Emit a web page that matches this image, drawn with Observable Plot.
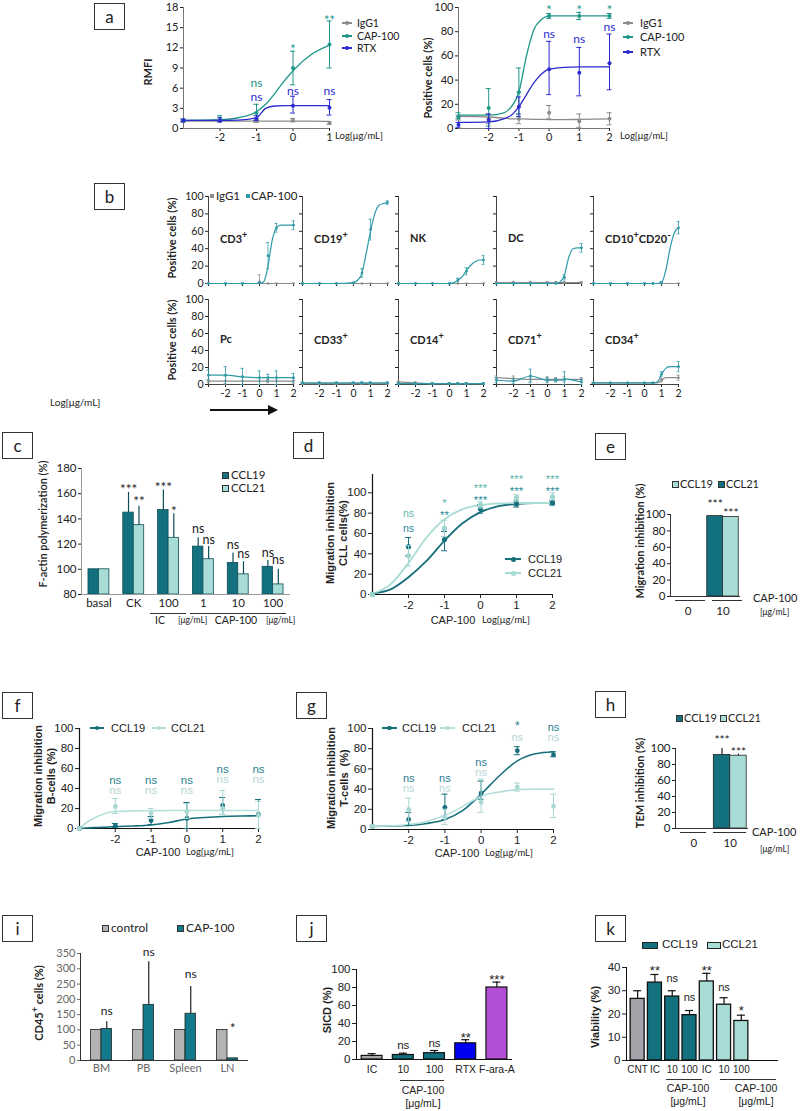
<!DOCTYPE html>
<html><head><meta charset="utf-8">
<script src="https://cdn.jsdelivr.net/npm/d3@7"></script>
<script src="https://cdn.jsdelivr.net/npm/@observablehq/plot@0.6"></script>
<style>
body{margin:0;background:#fff;}
#root{position:relative;width:800px;height:1111px;overflow:hidden;background:#fff;font-family:Lato,'Open Sans',sans-serif;color:#222;}
.box{position:absolute;width:31px;height:27px;border:1.3px solid #333;box-sizing:border-box;font-size:17px;display:flex;align-items:center;justify-content:center;font-family:Lato,sans-serif;}
.t{position:absolute;white-space:nowrap;line-height:1.15;text-align:center;}
.d{position:absolute;}
</style></head><body><div id="root"></div>
<script>
// ---------------- DATA ----------------
// panel a (left) RMFI
const aLX = [-3,-2,-1,0,1];
const aL_IgG1 = [1.1,1.1,1.1,1.2,0.8];
const aL_IgG1Lo = [1.0,1.0,0.9,1.0,0.6];
const aL_IgG1Hi = [1.2,1.3,1.3,1.5,1.0];
const aL_CAP = [1.2,1.3,2.3,9.0,12.5];
const aL_CAPLo = [1.0,1.0,1.2,6.5,9.0];
const aL_CAPHi = [1.4,1.9,3.6,11.5,16.0];
const aL_RTX = [1.2,1.2,1.5,3.4,3.1];
const aL_RTXLo = [1.0,1.0,1.2,2.3,2.0];
const aL_RTXHi = [1.4,1.6,1.9,4.8,4.3];
const aL_curveX = [-3,-2,-1.5,-1,-0.75,-0.5,-0.25,0,0.5,1];
const aL_IgG1Curve = [1.1,1.1,1.1,1.1,1.1,1.1,1.1,1.1,1.1,1.05];
const aL_CAPCurve = [1.2,1.3,1.6,2.5,3.6,5.2,7.0,8.6,11.0,12.4];
const aL_RTXCurve = [1.2,1.2,1.25,1.6,3.0,3.35,3.4,3.4,3.4,3.4];
const aL_annX = [-1,-1,0,0,1,1];
const aL_annY = [6.7,4.6,12.3,5.6,16.6,5.6];
const aL_annText = ["ns","ns","*","ns","**","ns"];
const aL_annSeries = ["CAP-100","RTX","CAP-100","RTX","CAP-100","RTX"];
const aL_yTicks = [0,3,6,9,12,15,18];
const aL_xTicks = [-2,-1,0,1];
// panel a (right) positive cells
const aRX = [-3,-2,-1,0,1,2];
const aR_CAP = [10,17,30,93,93,93];
const aR_CAPLo = [8,2,12,91,90,91];
const aR_CAPHi = [13,33,50,95,96,95];
const aR_RTX = [3,7,18,49,46,54];
const aR_RTXLo = [1,0,10,28,27,32];
const aR_RTXHi = [5,12,26,72,67,78];
const aR_IgG1 = [9,8,8,13,6,8];
const aR_IgG1Lo = [7,4,4,8,1,3];
const aR_IgG1Hi = [11,12,12,19,12,13];
const aR_curveX = [-3,-2,-1.5,-1.25,-1,-0.75,-0.5,-0.25,0,0.5,1,2];
const aR_CAPCurve = [11,11,13,18,30,60,82,90,93,93,93,93];
const aR_RTXCurve = [5,5.5,8,11,18,28,38,45,49,50.5,51,51];
const aR_IgG1Curve = [10,9.5,8.5,8,8,7.8,7.6,7.5,7.4,7.4,7.5,8];
const aR_annX = [0,1,2,0,1,2];
const aR_annY = [100.5,100.5,100.5,78,73.5,83.7];
const aR_annText = ["*","*","*","ns","ns","ns"];
const aR_annSeries = ["CAP-100","CAP-100","CAP-100","RTX","RTX","RTX"];
const aR_yTicks = [0,20,40,60,80,100];
const aR_xTicks = [-2,-1,0,1,2];
// panel b (10 populations)
const bNames = ["CD3<sup>+</sup>","CD19<sup>+</sup>","NK","DC","CD10<sup>+</sup>CD20<sup>-</sup>","Pc","CD33<sup>+</sup>","CD14<sup>+</sup>","CD71<sup>+</sup>","CD34<sup>+</sup>"];
const bGridX = [-3,-2,-1,0,0.25,0.5,0.75,1,1.25,1.5,1.75,2];
const bPtX = [-3,-2,-1,0,0.5,1,2];
const bCD3_cap = [0,0,0,0,2,20,50,64,67,67,67,67];
const bCD3_ig = [0,0,0,0,0,0,0,0,0,0,0,0];
const bCD3_capPts = [0,0,0,1,32,64,67];
const bCD3_capErr = [0,0,0,0,15,5,5];
const bCD3_igPts = [0,0,0,2,0,0,0];
const bCD3_igErr = [0,0,0,8,0,0,0];
const bCD19_cap = [0,0,0,1,4,12,35,60,80,90,92,93];
const bCD19_ig = [0,0,0,0,0,0,0,0,0,0,0,0];
const bCD19_capPts = [0,0,0,1,12,62,93];
const bCD19_capErr = [0,0,0,0,5,12,2];
const bCD19_igPts = [0,0,0,0,0,0,0];
const bCD19_igErr = [0,0,0,0,0,0,0];
const bNK_cap = [0,0,0,0,1,4,8,15,21,25,27,27];
const bNK_ig = [0,0,0,0,0,0,0,0,0,0,0,0];
const bNK_capPts = [0,0,0,0,4,14,27];
const bNK_capErr = [0,0,0,0,2,4,5];
const bNK_igPts = [0,0,0,0,0,0,0];
const bNK_igErr = [0,0,0,0,0,0,0];
const bDC_cap = [0,0,0,0,0,0,2,10,30,40,41,41];
const bDC_ig = [1,1,1,1,1,1,1,1,1,1,1,1];
const bDC_capPts = [0,0,0,0,0,7,41];
const bDC_capErr = [0,0,0,0,0,3,5];
const bDC_igPts = [1,1,1,1,1,1,1];
const bDC_igErr = [1,1,1,1,1,1,1];
const bCD10_cap = [0,0,0,0,0,0,0,1,15,40,58,64];
const bCD10_ig = [0,0,0,0,0,0,0,0,0,0,0,0];
const bCD10_capPts = [0,0,0,0,0,1,64];
const bCD10_capErr = [0,0,0,0,0,1,7];
const bCD10_igPts = [0,0,0,0,0,0,0];
const bCD10_igErr = [0,0,0,0,0,0,0];
const bPc_cap = [11,11,9,8,8,8,8,8,8,8,8,8];
const bPc_ig = [4,4,4,4,4,4,4,4,4,4,4,4];
const bPc_capPts = [11,11,9,8,8,8,8];
const bPc_capErr = [6,10,10,8,4,8,5];
const bPc_igPts = [4,4,4,4,4,4,4];
const bPc_igErr = [2,6,6,4,2,4,3];
const bCD33_cap = [2,2,2,2,2,2,2,2,2,2,2,2];
const bCD33_ig = [1,1,1,1,1,1,1,1,1,1,1,1];
const bCD33_capPts = [2,2,2,2,2,2,2];
const bCD33_capErr = [1,1,1,1,1,1,1];
const bCD33_igPts = [1,1,1,1,1,1,1];
const bCD33_igErr = [1,1,1,1,1,1,1];
const bCD14_cap = [1,1,1,1,1,1,1,1,1,1,1,1];
const bCD14_ig = [3,2,1,1,1,1,1,1,1,1,1,1];
const bCD14_capPts = [1,1,1,1,1,1,1];
const bCD14_capErr = [1,1,1,1,1,1,1];
const bCD14_igPts = [3,2,1,1,1,1,1];
const bCD14_igErr = [1,1,1,1,1,1,1];
const bCD71_cap = [5,4,10,5,5,5,5,6,6,5,4,3];
const bCD71_ig = [8,7,6,6,6,6,6,6,6,6,6,6];
const bCD71_capPts = [5,4,10,5,5,6,3];
const bCD71_capErr = [3,3,8,3,2,9,3];
const bCD71_igPts = [8,7,6,6,6,6,6];
const bCD71_igErr = [2,3,3,3,2,3,2];
const bCD34_cap = [2,2,2,2,2,2,3,12,19,21,21,21];
const bCD34_ig = [2,2,2,2,2,2,2,5,8,8,8,8];
const bCD34_capPts = [2,2,2,2,2,12,21];
const bCD34_capErr = [0,0,0,0,0,3,6];
const bCD34_igPts = [2,2,2,2,2,5,8];
const bCD34_igErr = [0,0,0,0,0,2,3];
const bYTicks = [0,20,40,60,80,100];
const bXTicks = [-3,-2,-1,0,1,2];
const bXLabels = [-2,-1,0,1,2];
// panel c F-actin
const cKeys = ["basal","CK","IC100","CAP1","CAP10","CAP100"];
const cLabels = ["basal","CK","100","1","10","100"];
const cCCL19 = [100,145,147,118,105,102];
const cCCL19Hi = [100,161,163,125,113,107];
const cCCL21 = [100,135,125,108,96,88];
const cCCL21Hi = [100,150,144,118,106,100];
const cSig19 = ["","***","***","ns","ns","ns"];
const cSig19Y = [0,166.5,168,132,119.6,112.8];
const cSig21 = ["","**","*","ns","ns","ns"];
const cSig21Y = [0,156.7,149,123.5,112,107];
const cYTicks = [80,100,120,140,160,180];
const cBase = 80;
// panel d CLL migration
const dX = [-3,-2,-1,0,1,2];
const d19 = [0,47,54,84,89,90];
const d19Lo = [0,38,43,80,86,88];
const d19Hi = [0,56,62,88,92,92];
const d21 = [0,38,65,88,95,96];
const d21Lo = [0,28,57,85,92,93];
const d21Hi = [0,48,73,91,98,100];
const dCurveX = [-3,-2.5,-2,-1.5,-1,-0.5,0,0.5,1,1.5,2];
const d19Curve = [1,5,17,33,53,70,81,87,89,90,90];
const d21Curve = [1,10,31,56,74,84,88,89.5,90,90,90];
const dAnnX = [-2,-1,0,1,2];
const dAnnTop = ["ns","*","***","***","***"];
const dAnnTopY = [80,93,107.5,116.5,116.5];
const dAnnBot = ["ns","**","***","***","***"];
const dAnnBotY = [65,81,95.5,104.5,104.5];
const dYTicks = [0,20,40,60,80,100];
const dXTicks = [-2,-1,0,1,2];
// panel e
const eKeys = ["0","10"];
const eCCL19 = [0,98];
const eCCL21 = [0,97];
const eSig19 = ["","***"];
const eSig19Y = [0,117];
const eSig21 = ["","***"];
const eSig21Y = [0,107];
const eYTicks = [0,20,40,60,80,100];
// panel f B-cells
const fX = [-3,-2,-1,0,1,2];
const f19 = [0,3,8,10,23,14];
const f19Lo = [0,1,4,0,14,0];
const f19Hi = [0,5,12,26,31,29];
const f21 = [0,22,15,17,20,13];
const f21Lo = [0,15,10,10,14,0];
const f21Hi = [0,30,20,25,38,27];
const fCurveX = [-3,-2.8,-2.5,-2.2,-2,-1.5,-1,-0.5,0,0.5,1,1.5,2];
const f19Curve = [0,0.5,1,1.5,2,2.5,3.5,6,9.5,11,12,12.5,12.7];
const f21Curve = [0,6,12,16,17,17.5,17.8,18,18,18,18,18,18];
const fAnnX = [-2,-1,0,1,2,-2,-1,0,1,2];
const fAnnY = [48,48,48,59,59,38,38,38,49,49];
const fAnnSeries = ["CCL19","CCL19","CCL19","CCL19","CCL19","CCL21","CCL21","CCL21","CCL21","CCL21"];
const fAnnText = ["ns","ns","ns","ns","ns","ns","ns","ns","ns","ns"];
// panel g T-cells
const gX = [-3,-2,-1,0,1,2];
const g19 = [3,10,22,36,78,74];
const g19Lo = [2,4,10,30,74,72];
const g19Hi = [4,17,35,48,82,77];
const g21 = [3,20,12,27,42,23];
const g21Lo = [2,8,5,17,38,12];
const g21Hi = [4,31,20,50,46,35];
const gCurveX = [-3,-2,-1.5,-1,-0.5,0,0.5,1,1.5,2];
const g19Curve = [3,4,6,10,19,35,53,68,75,77];
const g21Curve = [3,5,8,14,23,33,37,39.5,40,40];
const gAnnX = [-2,-1,0,1,2,-2,-1,0,1,2];
const gAnnY = [51,51,66,103,101,41,41,56,91,91];
const gAnnText = ["ns","ns","ns","*","ns","ns","ns","ns","ns","ns"];
const gAnnSeries = ["CCL19","CCL19","CCL19","CCL19","CCL19","CCL21","CCL21","CCL21","CCL21","CCL21"];
// panel h TEM
const hKeys = ["0","10"];
const hCCL19 = [0,92];
const hCCL19Hi = [0,100];
const hCCL21 = [0,91];
const hCCL21Hi = [0,93];
const hSig19 = ["","***"];
const hSig19Y = [0,115];
const hSig21 = ["","***"];
const hSig21Y = [0,101];
// panel i CD45+ cells in mice
const iKeys = ["BM","PB","Spleen","LN"];
const iControl = [100,100,100,100];
const iCAP = [103,182,153,7];
const iCAPHi = [127,323,242,7];
const iSig = ["ns","ns","ns","*"];
const iSigY = [163,356,281,118];
const iYTicks = [0,50,100,150,200,250,300,350];
// panel j SICD
const jKeys = ["IC","CAP10","CAP100","RTX","FaraA"];
const jLabels = ["IC","10","100","RTX","F-ara-A"];
const jVals = [4,5,7,18,80];
const jHi = [6.5,7,10,22,86];
const jSig = ["","ns","ns","**","***"];
const jSigY = [0,15.5,17.8,28,93];
const jYTicks = [0,20,40,60,80,100];
// panel k viability
const kKeys = ["CNT","IC19","C10_19","C100_19","IC21","C10_21","C100_21"];
const kLabels = ["CNT","IC","10","100","IC","10","100"];
const kGroup = ["CNT","CCL19","CCL19","CCL19","CCL21","CCL21","CCL21"];
const kVals = [26.5,33.5,27.5,19.5,34,24,17];
const kHi = [30,37,30,21.5,37.5,27,19.5];
const kSig = ["","**","ns","ns","**","ns","*"];
const kSigY = [0,40.5,35.3,27,40.5,31.5,23];
const kYTicks = [0,10,20,30,40];

// ---------------- STYLE ----------------
const C_TEAL_A = "#1e9688", C_BLUE_A = "#2b2bd0", C_GRAY_A = "#8a8a8a";
const C_DARK = "#13717f", C_LIGHT = "#a8dcd6";
const C_B_CAP = "#2f9aa8", C_B_IG = "#8d8d8d";
const FX = "Lato, 'Open Sans', sans-serif";
const FG = "'Liberation Sans', Arial, sans-serif";
const seriesColorA = {"IgG1": C_GRAY_A, "CAP-100": C_TEAL_A, "RTX": C_BLUE_A};
const seriesColorF = {"CCL19": "#2a7f8f", "CCL21": "#b5d6d6"};
const kColor = {"CNT": "#a3a3aa", "CCL19": C_DARK, "CCL21": C_LIGHT};
const jColor = ["#a6a6a6", C_DARK, C_DARK, "#0000f0", "#b24fd6"];

const ROOT = document.getElementById("root");
function place(el, left, top) {
  el.style.position = "absolute"; el.style.left = left + "px"; el.style.top = top + "px";
  el.style.overflow = "visible"; ROOT.append(el);
}
function T(html, x, y, o = {}) {
  const d = document.createElement("div");
  d.className = "t"; d.innerHTML = html;
  d.style.left = x + "px"; d.style.top = y + "px";
  d.style.fontSize = (o.size || 11) + "px";
  d.style.fontFamily = o.family || FX;
  if (o.weight) d.style.fontWeight = o.weight;
  d.style.color = o.color || "#222";
  const ax = o.anchor === "middle" ? "-50%" : o.anchor === "end" ? "-100%" : "0%";
  d.style.transform = o.rotate ? `translate(-50%,-50%) rotate(${o.rotate}deg)` : `translate(${ax},-50%)`;
  ROOT.append(d);
}
function BOX(s, x, y) { const d = document.createElement("div"); d.className = "box"; d.textContent = s; d.style.left = x + "px"; d.style.top = y + "px"; ROOT.append(d); }
function RECT(x, y, w, h, fill, border) {
  const d = document.createElement("div"); d.className = "d";
  d.style.left = x + "px"; d.style.top = (y - h / 2) + "px"; d.style.width = w + "px"; d.style.height = h + "px";
  d.style.background = fill; d.style.boxSizing = "border-box"; if (border) d.style.border = "1px solid " + border;
  ROOT.append(d);
}
function DOT(x, y, r, fill) { const d = document.createElement("div"); d.className = "d"; d.style.left = (x - r) + "px"; d.style.top = (y - r) + "px"; d.style.width = 2 * r + "px"; d.style.height = 2 * r + "px"; d.style.borderRadius = "50%"; d.style.background = fill; ROOT.append(d); }
function LINEMARK(x, y, len, color, r, w) { RECT(x, y, len, w || 1.5, color); if (r) DOT(x + len / 2, y, r, color); }

function plotAt(g, opts, marks) {
  const ml = g.ml ?? 40, mr = g.mr ?? 25, mt = g.mt ?? 25, mb = g.mb ?? 30;
  const svg = Plot.plot({
    width: (g.x1 - g.x0) + ml + mr, height: (g.y1 - g.y0) + mt + mb,
    marginLeft: ml, marginRight: mr, marginTop: mt, marginBottom: mb,
    color: {type: "identity"},
    style: {fontFamily: g.font || FX, fontSize: (g.fs || 11) + "px", color: g.textColor || "#222", background: "transparent", overflow: "visible"},
    ...opts, marks
  });
  place(svg, g.x0 - ml, g.y0 - mt);
}
const isStar = s => /^\*+$/.test(s);
function annMarks(data, o) {
  const base = {x: "x", y: "y", text: "text", fill: "color", fontSize: o.fs || 12, fontFamily: o.font || FX};
  return [
    Plot.text(data.filter(d => isStar(d.text)), {...base, fontSize: (o.fs || 12) + 1, dy: o.starDy ?? 4}),
    Plot.text(data.filter(d => !isStar(d.text)), {...base})
  ];
}
function errMarks(data, color, capW, sw) {
  return [
    Plot.ruleX(data, {x: "x", y1: "lo", y2: "hi", stroke: color, strokeWidth: sw || 1}),
    Plot.ruleY(data, {x1: "x", x2: "x", y: "hi", stroke: color, strokeWidth: sw || 1, insetLeft: -capW, insetRight: -capW}),
    Plot.ruleY(data, {x1: "x", x2: "x", y: "lo", stroke: color, strokeWidth: sw || 1, insetLeft: -capW, insetRight: -capW})
  ];
}
const zipXY = (xs, ys) => xs.map((x, i) => ({x, y: ys[i]}));
const zipPts = (xs, ys, lo, hi) => xs.map((x, i) => ({x, y: ys[i], lo: lo[i], hi: hi[i]}));

function linePanel(g) {
  const ax = g.axisColor || "#333", aw = g.axisW || 1;
  const marks = [
    Plot.axisY({ticks: g.yTicks, tickSize: g.yTickSize ?? 3, tickPadding: 2, tickFormat: g.yLabels === false ? () => "" : d => d, label: null, fontSize: g.fs || 11}),
    Plot.axisX({ticks: g.xTicks, tickSize: g.xTickSize ?? 3, tickPadding: g.xPad ?? 2, tickFormat: g.xLabels ? (d => g.xLabels.includes(d) ? String(d) : "") : () => "", label: null, fontSize: g.fs || 11}),
    Plot.ruleX([g.xDomain[0]], {stroke: ax, strokeWidth: aw}),
    Plot.ruleY([g.yDomain[0]], {stroke: ax, strokeWidth: aw}),
  ];
  for (const c of g.curves) marks.push(Plot.line(c.data, {x: "x", y: "y", stroke: c.color, strokeWidth: c.w || 1.3, curve: "monotone-x"}));
  for (const p of g.points) {
    marks.push(...errMarks(p.data, p.color, p.cap ?? 2.5, p.sw));
    marks.push(Plot.dot(p.data, {x: "x", y: "y", r: p.r || 2, fill: p.color}));
  }
  if (g.ann) marks.push(...annMarks(g.ann, {fs: g.annFs || 12, font: g.font, starDy: g.starDy}));
  plotAt(g, {x: {domain: g.xDomain}, y: {domain: g.yDomain}}, marks);
}

// ---------------- PANEL a ----------------
BOX("a", 94, 3);
linePanel({x0: 183, x1: 329, y0: 7, y1: 128, xDomain: [-3, 1], yDomain: [0, 18], yTicks: aL_yTicks, xTicks: aL_xTicks, xLabels: aL_xTicks, axisColor: "#777",
  curves: [
    {data: zipXY(aL_curveX, aL_IgG1Curve), color: C_GRAY_A},
    {data: zipXY(aL_curveX, aL_CAPCurve), color: C_TEAL_A},
    {data: zipXY(aL_curveX, aL_RTXCurve), color: C_BLUE_A}],
  points: [
    {data: zipPts(aLX, aL_IgG1, aL_IgG1Lo, aL_IgG1Hi), color: C_GRAY_A},
    {data: zipPts(aLX, aL_CAP, aL_CAPLo, aL_CAPHi), color: C_TEAL_A},
    {data: zipPts(aLX, aL_RTX, aL_RTXLo, aL_RTXHi), color: C_BLUE_A}],
  ann: aL_annX.map((x, i) => ({x, y: aL_annY[i], text: aL_annText[i], color: seriesColorA[aL_annSeries[i]]})), annFs: 12
});
T("RMFI", 148, 72, {rotate: -90, weight: 700, size: 11});
LINEMARK(342, 23, 10, C_GRAY_A, 1.8); T("IgG1", 357, 23, {size: 10.5});
LINEMARK(342, 36, 10, C_TEAL_A, 1.8); T("CAP-100", 357, 36, {size: 10.5});
LINEMARK(342, 48, 10, C_BLUE_A, 1.8); T("RTX", 357, 48, {size: 10.5});
T("Log[μg/mL]", 335, 136, {size: 9.5});

linePanel({x0: 458, x1: 609, y0: 7, y1: 128, xDomain: [-3, 2], yDomain: [0, 100], yTicks: aR_yTicks, xTicks: aR_xTicks, xLabels: aR_xTicks, axisColor: "#777",
  curves: [
    {data: zipXY(aR_curveX, aR_IgG1Curve), color: C_GRAY_A},
    {data: zipXY(aR_curveX, aR_CAPCurve), color: C_TEAL_A},
    {data: zipXY(aR_curveX, aR_RTXCurve), color: C_BLUE_A}],
  points: [
    {data: zipPts(aRX, aR_IgG1, aR_IgG1Lo, aR_IgG1Hi), color: C_GRAY_A},
    {data: zipPts(aRX, aR_CAP, aR_CAPLo, aR_CAPHi), color: C_TEAL_A},
    {data: zipPts(aRX, aR_RTX, aR_RTXLo, aR_RTXHi), color: C_BLUE_A}],
  ann: aR_annX.map((x, i) => ({x, y: aR_annY[i], text: aR_annText[i], color: seriesColorA[aR_annSeries[i]]})), annFs: 12
});
T("Positive cells (%)", 428, 78, {rotate: -90, weight: 700, size: 11});
LINEMARK(623, 23, 10, C_GRAY_A, 1.8); T("IgG1", 640, 23, {size: 11});
LINEMARK(623, 37, 10, C_TEAL_A, 1.8); T("CAP-100", 640, 37, {size: 11});
LINEMARK(623, 52, 10, C_BLUE_A, 1.8); T("RTX", 640, 52, {size: 11});
T("Log[μg/mL]", 620, 136, {size: 9.5});

// ---------------- PANEL b ----------------
BOX("b", 94, 183);
const bCols = [208, 302, 398, 496, 593];
const bRows = [[196, 283], [299, 384]];
const bSets = [
  [bCD3_cap, bCD3_ig, bCD3_capPts, bCD3_capErr, bCD3_igPts, bCD3_igErr],
  [bCD19_cap, bCD19_ig, bCD19_capPts, bCD19_capErr, bCD19_igPts, bCD19_igErr],
  [bNK_cap, bNK_ig, bNK_capPts, bNK_capErr, bNK_igPts, bNK_igErr],
  [bDC_cap, bDC_ig, bDC_capPts, bDC_capErr, bDC_igPts, bDC_igErr],
  [bCD10_cap, bCD10_ig, bCD10_capPts, bCD10_capErr, bCD10_igPts, bCD10_igErr],
  [bPc_cap, bPc_ig, bPc_capPts, bPc_capErr, bPc_igPts, bPc_igErr],
  [bCD33_cap, bCD33_ig, bCD33_capPts, bCD33_capErr, bCD33_igPts, bCD33_igErr],
  [bCD14_cap, bCD14_ig, bCD14_capPts, bCD14_capErr, bCD14_igPts, bCD14_igErr],
  [bCD71_cap, bCD71_ig, bCD71_capPts, bCD71_capErr, bCD71_igPts, bCD71_igErr],
  [bCD34_cap, bCD34_ig, bCD34_capPts, bCD34_capErr, bCD34_igPts, bCD34_igErr]];
bSets.forEach((s, i) => {
  const col = i % 5, row = Math.floor(i / 5);
  const x0 = bCols[col];
  const pts = (ys, es) => bPtX.map((x, j) => ({x, y: ys[j], lo: Math.max(0, ys[j] - es[j]), hi: ys[j] + es[j]}));
  linePanel({x0, x1: x0 + 85, y0: bRows[row][0], y1: bRows[row][1], xDomain: [-3, 2], yDomain: [0, 100],
    yTicks: bYTicks, yLabels: col === 0 ? undefined : false, xTicks: bXTicks, xLabels: row === 1 ? bXLabels : null,
    axisColor: "#444", fs: 10.5, ml: 40, mb: 25,
    curves: [{data: zipXY(bGridX, s[1]), color: C_B_IG, w: 1.2}, {data: zipXY(bGridX, s[0]), color: C_B_CAP, w: 1.2}],
    points: [{data: pts(s[4], s[5]), color: C_B_IG, r: 1.3, cap: 1.5, sw: 0.8}, {data: pts(s[2], s[3]), color: C_B_CAP, r: 1.4, cap: 1.5, sw: 0.8}]
  });
  T(bNames[i], x0 + 12, (row === 0 ? 238 : 339), {size: 11, weight: 700});
});
T("Positive cells (%)", 172, 238, {rotate: -90, weight: 700, size: 11});
T("Positive cells (%)", 172, 340, {rotate: -90, weight: 700, size: 11});
RECT(210, 196, 4, 4, C_B_IG); T("IgG1", 216, 196, {size: 11.5});
RECT(246, 196, 4, 4, C_B_CAP); T("CAP-100", 251, 196, {size: 11.5});
T("Log[μg/mL]", 50, 403, {size: 10});
RECT(210, 410, 60, 1.3, "#111");
{ const d = document.createElement("div"); d.className = "d"; d.style.left = "268px"; d.style.top = "405px"; d.style.width = "0"; d.style.height = "0";
  d.style.borderTop = "5px solid transparent"; d.style.borderBottom = "5px solid transparent"; d.style.borderLeft = "10px solid #111"; ROOT.append(d); }

// ---------------- bar helper ----------------
function bandInfo(range, n, pI, pO) { const step = range / (n - pI + 2 * pO); return {step, bw: step * (1 - pI)}; }
function pairedBars(g) {
  const {bw} = bandInfo(g.bx1 - g.x0, g.keys.length, g.pI, g.pO);
  const ml = g.ml ?? 40;
  const base = g.base ?? 0;
  const data = g.keys.map((k, i) => ({x: k, a: g.a[i], b: g.b[i], aHi: g.aHi ? g.aHi[i] : g.a[i], bHi: g.bHi ? g.bHi[i] : g.b[i],
    sa: g.sa ? g.sa[i] : "", sb: g.sb ? g.sb[i] : "", say: g.say ? g.say[i] : 0, sby: g.sby ? g.sby[i] : 0}));
  const q = bw / 4, cap = g.cap ?? 3;
  const ax = g.axisColor || "#333";
  const fs = g.fs || 11, sfs = g.sigFs || 12;
  const ec = g.errCol || "#222", sc = g.sigCol || "#222";
  const sA = data.filter(d => d.sa), sB = data.filter(d => d.sb);
  const marks = [
    Plot.axisY({ticks: g.yTicks, tickSize: g.yTickSize ?? 3, tickPadding: 2, label: null, fontSize: fs}),
    Plot.axisX({tickSize: 0, tickPadding: g.xPad ?? 4, label: null, fontSize: fs, tickFormat: d => g.labels ? g.labels[g.keys.indexOf(d)] : d}),
    Plot.barY(data.filter(d => d.a > base), {x: "x", y1: base, y2: "a", fill: g.colA, stroke: g.strokeCol || "#222", strokeWidth: g.sw || 0.8, insetRight: bw / 2}),
    Plot.barY(data.filter(d => d.b > base), {x: "x", y1: base, y2: "b", fill: g.colB, stroke: g.strokeCol || "#222", strokeWidth: g.sw || 0.8, insetLeft: bw / 2}),
    Plot.ruleX(data.filter(d => d.aHi > d.a), {x: "x", y1: "a", y2: "aHi", dx: -q, stroke: ec, strokeWidth: 1.2}),
    Plot.ruleX(data.filter(d => d.bHi > d.b), {x: "x", y1: "b", y2: "bHi", dx: q, stroke: ec, strokeWidth: 1.2}),
    Plot.tickY(data.filter(d => d.aHi > d.a), {x: "x", y: "aHi", insetLeft: q - cap, insetRight: 3 * q + cap, stroke: ec, strokeWidth: 1.2}),
    Plot.tickY(data.filter(d => d.bHi > d.b), {x: "x", y: "bHi", insetLeft: 3 * q - cap, insetRight: q + cap, stroke: ec, strokeWidth: 1.2}),
    Plot.ruleY([g.yDomain[0]], {stroke: ax, strokeWidth: g.aw || 1}),
    Plot.text(sA.filter(d => isStar(d.sa)), {x: "x", y: "say", text: "sa", dx: -q, dy: 4, fill: sc, fontSize: sfs + 1}),
    Plot.text(sA.filter(d => !isStar(d.sa)), {x: "x", y: "say", text: "sa", dx: -q, fill: sc, fontSize: sfs}),
    Plot.text(sB.filter(d => isStar(d.sb)), {x: "x", y: "sby", text: "sb", dx: q, dy: 4, fill: sc, fontSize: sfs + 1}),
    Plot.text(sB.filter(d => !isStar(d.sb)), {x: "x", y: "sby", text: "sb", dx: q, fill: sc, fontSize: sfs})
  ];
  plotAt({...g, ml}, {
    x: {domain: g.keys, range: [ml, ml + (g.bx1 - g.x0)], paddingInner: g.pI, paddingOuter: g.pO, round: false, align: 0.5},
    y: {domain: g.yDomain}
  }, marks);
}

// ---------------- PANEL c ----------------
BOX("c", 2, 432);
pairedBars({x0: 81, x1: 290, bx1: 290, y0: 468, y1: 594, keys: cKeys, labels: cLabels, pI: 0.4, pO: 0.2, base: cBase,
  a: cCCL19, b: cCCL21, aHi: cCCL19Hi, bHi: cCCL21Hi, sa: cSig19, sb: cSig21, say: cSig19Y, sby: cSig21Y,
  colA: C_DARK, colB: C_LIGHT, strokeCol: "#0d4c57", yDomain: [80, 180], yTicks: cYTicks, axisColor: "#999", fs: 11.5, sigFs: 12.5,
  errCol: "#0d4c57"});
RECT(81, 531, 1, 126, "#999");
T("F-actin polymerization (%)", 43, 524, {rotate: -90, size: 11, weight: 600});
RECT(222, 475, 7, 7, C_DARK, "#333"); T("CCL19", 231, 475, {size: 11.5});
RECT(222, 488, 7, 7, C_LIGHT, "#333"); T("CCL21", 231, 488, {size: 11.5});
RECT(150, 613, 36, 0.8, "#333"); RECT(190, 613, 96, 0.8, "#333");
T("IC", 160, 620, {size: 10.5, anchor: "middle"}); T("[μg/mL]", 178, 621, {size: 8.5});
T("CAP-100", 236, 620, {size: 10.5, anchor: "middle"}); T("[μg/mL]", 266, 621, {size: 8.5});

// ---------------- PANEL d ----------------
BOX("d", 293, 432);
{
  const ann = dAnnX.flatMap((x, i) => [
    {x, y: dAnnTopY[i], text: dAnnTop[i], color: "#5fb5b2"},
    {x, y: dAnnBotY[i], text: dAnnBot[i], color: "#1f8a97"}]);
  linePanel({x0: 372, x1: 552, y0: 474, y1: 594, xDomain: [-3, 2], yDomain: [0, 118], yTicks: dYTicks, xTicks: dXTicks, xLabels: dXTicks, axisColor: "#111", axisW: 1.2,
    font: FG, fs: 11.5, yTickSize: 4, xTickSize: 4, starDy: 3,
    curves: [{data: zipXY(dCurveX, d19Curve), color: "#176f7c", w: 1.8}, {data: zipXY(dCurveX, d21Curve), color: "#a9dcd6", w: 1.8}],
    points: [{data: zipPts(dX, d19, d19Lo, d19Hi), color: "#176f7c", r: 2.6, cap: 3}, {data: zipPts(dX, d21, d21Lo, d21Hi), color: "#9ed5cf", r: 2.6, cap: 3}],
    ann, annFs: 10.5
  });
}
T("Migration inhibition<br>CLL cells(%)", 337, 533, {rotate: -90, size: 11, weight: 700, family: FG});
LINEMARK(505, 559, 16, "#176f7c", 2.5, 2); T("CCL19", 528, 559, {size: 11, family: FG});
LINEMARK(505, 573, 16, "#a9dcd6", 2.5, 2); T("CCL21", 528, 573, {size: 11, family: FG});
T("CAP-100", 453, 620, {size: 11, family: FG, anchor: "middle"}); T("Log[μg/mL]", 482, 620, {size: 9.5, family: FX});

// ---------------- PANEL e ----------------
BOX("e", 595, 433);
pairedBars({x0: 670, x1: 740, bx1: 740, y0: 514, y1: 596, keys: eKeys, pI: 0.1, pO: 0.05,
  a: eCCL19, b: eCCL21, sa: eSig19, sb: eSig21, say: eSig19Y, sby: eSig21Y,
  colA: C_DARK, colB: C_LIGHT, yDomain: [0, 100], yTicks: eYTicks, fs: 11.5, xPad: 10, sigFs: 11, ml: 35});
RECT(670, 555, 1, 82, "#333");
T("Migration inhibition (%)", 640, 541, {rotate: -90, size: 11, weight: 700});
RECT(672, 484, 7, 7, C_LIGHT, "#333"); T("CCL19", 680, 484, {size: 11});
RECT(718, 484, 7, 7, C_DARK, "#333"); T("CCL21", 726, 484, {size: 11});
RECT(675, 600, 30, 0.8, "#333"); RECT(712, 600, 30, 0.8, "#333");
T("CAP-100", 753, 598, {size: 11}); T("[μg/mL]", 760, 613, {size: 8.5});

// ---------------- PANEL f ----------------
BOX("f", 2, 692);
linePanel({x0: 79, x1: 258, y0: 728, y1: 828, xDomain: [-3, 2], yDomain: [0, 100], yTicks: dYTicks, xTicks: dXTicks, xLabels: dXTicks, axisColor: "#111", axisW: 1.2,
  font: FG, fs: 11.5, yTickSize: 4, xTickSize: 4,
  curves: [{data: zipXY(fCurveX, f19Curve), color: "#176f7c", w: 1.6}, {data: zipXY(fCurveX, f21Curve), color: "#b5dfdb", w: 1.6}],
  points: [{data: zipPts(fX, f19, f19Lo, f19Hi), color: "#176f7c", r: 2.4, cap: 3}, {data: zipPts(fX, f21, f21Lo, f21Hi), color: "#a9d8d3", r: 2.4, cap: 3}],
  ann: fAnnX.map((x, i) => ({x, y: fAnnY[i], text: fAnnText[i], color: seriesColorF[fAnnSeries[i]]})), annFs: 11.5
});
T("Migration inhibition<br>B-cells (%)", 45, 776, {rotate: -90, size: 11, weight: 700, family: FG});
LINEMARK(90, 728, 14, "#176f7c", 2.3, 1.8); T("CCL19", 111, 728, {size: 11, family: FG});
LINEMARK(152, 728, 14, "#b5dfdb", 2.3, 1.8); T("CCL21", 171, 728, {size: 11, family: FG});
T("CAP-100", 158, 852, {size: 11, family: FG, anchor: "middle"}); T("Log[μg/mL]", 186, 852, {size: 9.5});

// ---------------- PANEL g ----------------
BOX("g", 296, 692);
linePanel({x0: 372, x1: 553, y0: 728, y1: 829, xDomain: [-3, 2], yDomain: [0, 100], yTicks: dYTicks, xTicks: dXTicks, xLabels: dXTicks, axisColor: "#111", axisW: 1.2,
  font: FG, fs: 11.5, yTickSize: 4, xTickSize: 4, starDy: 1,
  curves: [{data: zipXY(gCurveX, g19Curve), color: "#176f7c", w: 1.6}, {data: zipXY(gCurveX, g21Curve), color: "#b5dfdb", w: 1.6}],
  points: [{data: zipPts(gX, g19, g19Lo, g19Hi), color: "#176f7c", r: 2.4, cap: 3}, {data: zipPts(gX, g21, g21Lo, g21Hi), color: "#a9d8d3", r: 2.4, cap: 3}],
  ann: gAnnX.map((x, i) => ({x, y: gAnnY[i], text: gAnnText[i], color: seriesColorF[gAnnSeries[i]]})), annFs: 11
});
T("Migration inhibition<br>T-cells&nbsp; (%)", 338, 778, {rotate: -90, size: 11, weight: 700, family: FG});
LINEMARK(382, 728, 15, "#176f7c", 2.3, 1.8); T("CCL19", 402, 728, {size: 11, family: FG});
LINEMARK(440, 728, 15, "#b5dfdb", 2.3, 1.8); T("CCL21", 462, 728, {size: 11, family: FG});
T("CAP-100", 457, 853, {size: 11, family: FG, anchor: "middle"}); T("Log[μg/mL]", 485, 853, {size: 9.5});

// ---------------- PANEL h ----------------
BOX("h", 595, 691);
pairedBars({x0: 675, x1: 748, bx1: 748, y0: 748, y1: 828, keys: hKeys, pI: 0.1, pO: 0.05,
  a: hCCL19, b: hCCL21, aHi: hCCL19Hi, bHi: hCCL21Hi, sa: hSig19, sb: hSig21, say: hSig19Y, sby: hSig21Y,
  colA: C_DARK, colB: C_LIGHT, yDomain: [0, 100], yTicks: eYTicks, fs: 11.5, xPad: 10, sigFs: 11, ml: 35});
RECT(675, 788, 1, 80, "#333");
T("TEM inhibition (%)", 640, 783, {rotate: -90, size: 11, weight: 700});
RECT(676, 718, 7, 7, C_DARK, "#333"); T("CCL19", 684, 718, {size: 11});
RECT(720, 718, 7, 7, C_LIGHT, "#333"); T("CCL21", 728, 718, {size: 11});
RECT(680, 832, 26, 0.8, "#333"); RECT(713, 832, 33, 0.8, "#333");
T("CAP-100", 752, 832, {size: 11}); T("[μg/mL]", 760, 850, {size: 8.5});

// ---------------- PANEL i ----------------
BOX("i", 2, 915);
pairedBars({x0: 80, x1: 248, bx1: 248, y0: 953, y1: 1060, keys: iKeys, pI: 0.5, pO: 0.25,
  a: iControl, b: iCAP, bHi: iCAPHi, sb: iSig, sby: iSigY,
  colA: "#b3b3b3", colB: "#127a8a", yDomain: [0, 350], yTicks: iYTicks, fs: 11, xPad: 4, sigFs: 12, textColor: "#666", sigCol: "#222", cap: 3.5});
RECT(80, 1006, 1, 107, "#333");
T("CD45<sup>+</sup> cells (%)", 38, 1003, {rotate: -90, size: 11, weight: 700});
RECT(102, 928, 7, 7, "#b3b3b3", "#333"); T("control", 111, 928, {size: 12});
RECT(177, 928, 7, 7, "#127a8a", "#333"); T("CAP-100", 186, 928, {size: 12});

// ---------------- PANEL j ----------------
BOX("j", 296, 915);
{
  const g = {x0: 356, x1: 512, y0: 969, y1: 1059, font: FG, fs: 10.5};
  const {bw} = bandInfo(156, 5, 0.33, 0.165);
  const data = jKeys.map((k, i) => ({x: k, v: jVals[i], hi: jHi[i], c: jColor[i], s: jSig[i], sy: jSigY[i]}));
  plotAt(g, {x: {domain: jKeys, paddingInner: 0.33, paddingOuter: 0.165, round: false}, y: {domain: [0, 100]}}, [
    Plot.axisY({ticks: jYTicks, tickSize: 4, tickPadding: 2, label: null, fontSize: 11.5}),
    Plot.axisX({tickSize: 0, tickPadding: 6, label: null, fontSize: 10.5, tickFormat: d => jLabels[jKeys.indexOf(d)]}),
    Plot.ruleX(data, {x: "x", y1: "v", y2: "hi", stroke: "#111", strokeWidth: 1.2}),
    Plot.tickY(data, {x: "x", y: "hi", insetLeft: bw / 2 - 4, insetRight: bw / 2 - 4, stroke: "#111", strokeWidth: 1.2}),
    Plot.barY(data, {x: "x", y: "v", fill: "c", stroke: "#111", strokeWidth: 1.2}),
    Plot.ruleY([0], {stroke: "#111", strokeWidth: 1.2}),
    Plot.text(data.filter(d => isStar(d.s)), {x: "x", y: "sy", text: "s", fontSize: 13, dy: 4}),
    Plot.text(data.filter(d => d.s && !isStar(d.s)), {x: "x", y: "sy", text: "s", fontSize: 11.5})
  ]);
  RECT(356, 1014, 1.2, 90, "#111");
}
T("SICD (%)", 327, 1010, {rotate: -90, size: 11, weight: 700, family: FG});
RECT(400, 1080, 44, 0.9, "#333");
T("CAP-100", 423, 1090, {size: 10.5, family: FG, anchor: "middle"}); T("[μg/mL]", 423, 1103, {size: 10.5, family: FG, anchor: "middle"});

// ---------------- PANEL k ----------------
BOX("k", 595, 915);
{
  const g = {x0: 626, x1: 778, y0: 967, y1: 1060, font: FG, fs: 10};
  const ml = 40;
  const {bw} = bandInfo(126, 7, 0.19, 0.24);
  const data = kKeys.map((k, i) => ({x: k, v: kVals[i], hi: kHi[i], c: kColor[kGroup[i]], s: kSig[i], sy: kSigY[i]}));
  plotAt({...g, ml}, {x: {domain: kKeys, range: [ml, ml + 126], paddingInner: 0.19, paddingOuter: 0.24, round: false}, y: {domain: [0, 40]}}, [
    Plot.axisY({ticks: kYTicks, tickSize: 4, tickPadding: 2, label: null, fontSize: 11.5}),
    Plot.axisX({tickSize: 0, tickPadding: 5, label: null, fontSize: 10, tickFormat: d => kLabels[kKeys.indexOf(d)]}),
    Plot.ruleX(data, {x: "x", y1: "v", y2: "hi", stroke: "#111", strokeWidth: 1.2}),
    Plot.tickY(data, {x: "x", y: "hi", insetLeft: bw / 2 - 4, insetRight: bw / 2 - 4, stroke: "#111", strokeWidth: 1.2}),
    Plot.barY(data, {x: "x", y: "v", fill: "c", stroke: "#111", strokeWidth: 1.3}),
    Plot.ruleY([0], {stroke: "#111", strokeWidth: 1.2}),
    Plot.text(data.filter(d => isStar(d.s)), {x: "x", y: "sy", text: "s", fontSize: 13, dy: 4}),
    Plot.text(data.filter(d => d.s && !isStar(d.s)), {x: "x", y: "sy", text: "s", fontSize: 11})
  ]);
  RECT(626, 1013, 1.2, 93, "#111");
}
T("Viability (%)", 595, 1017, {rotate: -90, size: 11, weight: 700, family: FG});
RECT(642, 945, 16, 7, C_DARK, "#222"); T("CCL19", 662, 945, {size: 11.5, family: FG});
RECT(707, 945, 14, 7, C_LIGHT, "#222"); T("CCL21", 722, 945, {size: 11.5, family: FG});
RECT(666, 1079, 36, 0.9, "#333"); RECT(720, 1079, 56, 0.9, "#333");
T("CAP-100", 688, 1088, {size: 10.5, family: FG, anchor: "middle"}); T("[μg/mL]", 688, 1101, {size: 10.5, family: FG, anchor: "middle"});
T("CAP-100", 756, 1088, {size: 10.5, family: FG, anchor: "middle"}); T("[μg/mL]", 756, 1101, {size: 10.5, family: FG, anchor: "middle"});
</script></body></html>
